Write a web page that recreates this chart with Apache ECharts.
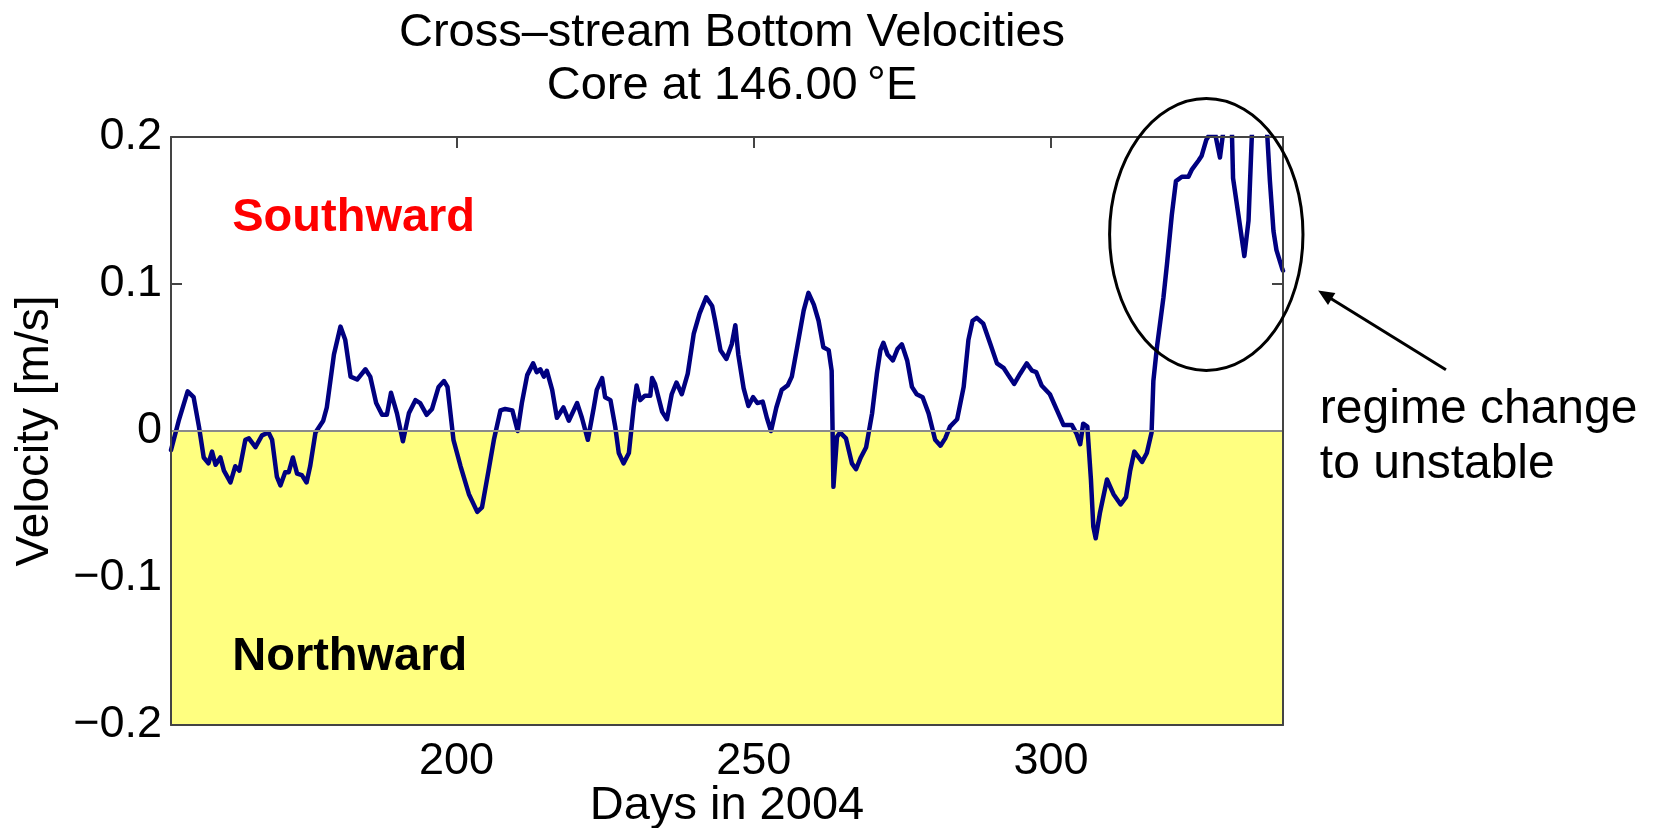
<!DOCTYPE html>
<html>
<head>
<meta charset="utf-8">
<title>Cross-stream Bottom Velocities</title>
<script src="https://cdn.jsdelivr.net/npm/echarts@6/dist/echarts.min.js"></script>
<style>
  html, body { margin: 0; padding: 0; background: #fff; }
  #chart { width: 1654px; height: 828px; }
</style>
</head>
<body>
<div id="chart"></div>
<script>
// days in 2004 and cross-stream bottom velocity (m/s)
var days = [
  152.0, 153.3, 154.8, 155.8, 156.7, 157.5, 158.3, 158.9, 159.5, 160.3,
  160.9, 162.0, 162.8, 163.5, 164.5, 165.1, 166.2, 167.3, 168.4, 169.0,
  169.8, 170.4, 171.2, 171.8, 172.5, 173.2, 174.0, 174.8, 175.4, 176.3,
  177.6, 178.2, 179.4, 180.5, 181.3, 182.2, 183.3, 184.7, 185.5, 186.5,
  187.5, 188.3, 189.0, 190.0, 191.0, 192.0, 193.1, 193.9, 195.0, 195.9,
  197.0, 197.9, 198.5, 199.5, 200.7, 202.1, 203.5, 204.3, 205.4, 206.3,
  207.4, 208.2, 209.4, 210.3, 211.0, 211.9, 212.9, 213.5, 214.1, 214.7,
  215.2, 216.1, 216.9, 218.0, 218.9, 220.3, 221.1, 222.1, 223.1, 223.6,
  224.5, 225.0, 225.9, 226.7, 227.3, 228.1, 229.0, 229.8, 230.3, 230.9,
  231.7, 232.6, 232.9, 233.4, 234.6, 235.4, 236.2, 237.0, 237.9, 238.9,
  239.9, 240.9, 242.0, 243.0, 243.5, 244.4, 245.4, 246.3, 246.9, 247.4,
  248.3, 249.1, 249.9, 250.6, 251.5, 252.2, 252.9, 253.8, 254.7, 255.7,
  256.4, 257.3, 258.4, 259.2, 260.1, 260.9, 261.7, 262.6, 263.1, 263.4,
  264.0, 264.5, 265.5, 266.5, 267.2, 268.0, 268.9, 269.9, 270.7, 271.3,
  271.8, 272.5, 273.4, 274.2, 274.9, 275.8, 276.6, 277.4, 278.4, 279.4,
  280.5, 281.4, 282.2, 283.0, 284.2, 285.3, 286.1, 286.8, 287.5, 288.6,
  289.8, 290.9, 292.0, 292.8, 293.8, 294.8, 295.9, 296.8, 297.5, 298.4,
  299.8, 301.0, 302.1, 303.5, 304.3, 304.9, 305.4, 306.1, 306.7, 307.1,
  307.5, 308.2, 309.4, 310.5, 311.7, 312.6, 313.3, 314.0, 315.3, 316.1,
  316.9, 317.2, 317.8, 318.9, 319.5, 320.3, 321.0, 322.0, 323.1, 323.7,
  324.8, 325.3, 326.1, 326.7, 327.6, 328.4, 329.0, 329.7, 330.4, 330.6,
  331.5, 332.5, 333.2, 333.8, 335.0, 336.3, 336.8, 337.4, 337.9, 338.9,
  339.0
];
var velocity = [
  -0.013, 0.007, 0.027, 0.023, 0.003, -0.018, -0.022, -0.014, -0.023, -0.018,
  -0.027, -0.035, -0.024, -0.027, -0.006, -0.005, -0.011, -0.003, -0.001, -0.006,
  -0.031, -0.037, -0.028, -0.028, -0.018, -0.029, -0.030, -0.035, -0.024, -0.001,
  0.007, 0.016, 0.052, 0.071, 0.062, 0.037, 0.035, 0.042, 0.037, 0.019,
  0.011, 0.011, 0.026, 0.012, -0.007, 0.012, 0.021, 0.019, 0.011, 0.015,
  0.030, 0.034, 0.030, -0.006, -0.024, -0.043, -0.055, -0.052, -0.027, -0.006,
  0.014, 0.015, 0.014, 0.000, 0.019, 0.038, 0.046, 0.040, 0.042, 0.037,
  0.041, 0.028, 0.009, 0.016, 0.007, 0.019, 0.009, -0.006, 0.016, 0.028,
  0.036, 0.023, 0.021, 0.003, -0.015, -0.022, -0.015, 0.016, 0.031, 0.021,
  0.024, 0.024, 0.036, 0.032, 0.013, 0.008, 0.025, 0.033, 0.025, 0.039,
  0.066, 0.080, 0.091, 0.085, 0.075, 0.055, 0.049, 0.059, 0.072, 0.052,
  0.029, 0.017, 0.023, 0.019, 0.020, 0.009, 0.000, 0.016, 0.028, 0.031,
  0.037, 0.057, 0.082, 0.094, 0.086, 0.075, 0.057, 0.055, 0.041, -0.038,
  -0.004, -0.001, -0.005, -0.022, -0.026, -0.018, -0.011, 0.012, 0.039, 0.055,
  0.060, 0.052, 0.048, 0.056, 0.059, 0.048, 0.030, 0.025, 0.023, 0.012,
  -0.006, -0.010, -0.005, 0.003, 0.008, 0.030, 0.062, 0.075, 0.077, 0.073,
  0.059, 0.046, 0.043, 0.038, 0.032, 0.039, 0.046, 0.041, 0.040, 0.031,
  0.025, 0.014, 0.004, 0.004, -0.002, -0.009, 0.005, 0.003, -0.033, -0.065,
  -0.073, -0.056, -0.033, -0.043, -0.050, -0.045, -0.027, -0.014, -0.021, -0.015,
  -0.001, 0.034, 0.057, 0.091, 0.114, 0.147, 0.170, 0.173, 0.173, 0.178,
  0.184, 0.187, 0.198, 0.202, 0.202, 0.186, 0.205, 0.230, 0.205, 0.172,
  0.147, 0.119, 0.143, 0.205, 0.250, 0.205, 0.170, 0.136, 0.123, 0.110,
  0.109
];
var xTicks = [200, 250, 300];
var yTicks = [0.1];

// annotation anchors in data units
var southLabel = [162.3, 0.146];
var northLabel = [162.3, -0.153];
var ring = { cx: 326.1, cy: 0.1337, rx: 16.26, ry: 0.0925 };
var arrowTip = [344.9, 0.0955];
var arrowTail = [366.4, 0.0417];
var noteAnchor = [345.2, -0.0040];

var FONT = '"Liberation Sans", Arial, Helvetica, sans-serif';

var seriesData = days.map(function (d, i) { return [d, velocity[i]]; });

function yFmt(v) {
  if (Math.abs(v) < 1e-9) return '0';
  return (v < 0 ? '\u2212' : '') + Math.abs(v).toFixed(1);
}

var frame = { show: true, onZero: false, lineStyle: { color: '#444', width: 2 } };

var chart = echarts.init(document.getElementById('chart'));

var option = {
  backgroundColor: '#fff',
  animation: false,
  title: {
    text: 'Cross\u2013stream Bottom Velocities\nCore at 146.00\u2009\u00b0E',
    left: 727,
    top: 2,
    textAlign: 'center',
    textStyle: { fontFamily: FONT, fontSize: 47, fontWeight: 'normal', color: '#000', lineHeight: 53 }
  },
  grid: {
    left: 171, right: 371, top: 137, bottom: 103,
    containLabel: false, outerBoundsMode: 'none'
  },
  xAxis: [
    {
      type: 'value', min: 152, max: 339, position: 'bottom', z: 10,
      name: 'Days in 2004', nameLocation: 'middle', nameGap: 58, nameMoveOverlap: false,
      nameTextStyle: { fontFamily: FONT, fontSize: 47, color: '#000' },
      axisLine: frame,
      axisTick: { show: false },
      axisLabel: { customValues: xTicks, margin: 14, fontFamily: FONT, fontSize: 45, color: '#000' },
      splitLine: { show: false }
    },
    {
      type: 'value', min: 152, max: 339, position: 'top', z: 10,
      axisLine: frame,
      axisTick: { show: true, inside: true, length: 11, customValues: xTicks, lineStyle: { color: '#444', width: 2 } },
      axisLabel: { show: false },
      splitLine: { show: false }
    }
  ],
  yAxis: [
    {
      type: 'value', min: -0.2, max: 0.2, interval: 0.1, position: 'left', z: 10,
      name: 'Velocity [m/s]', nameLocation: 'middle', nameGap: 113, nameRotate: 90, nameMoveOverlap: false,
      nameTextStyle: { fontFamily: FONT, fontSize: 46, color: '#000' },
      axisLine: frame,
      axisTick: { show: true, inside: true, length: 11, customValues: yTicks, lineStyle: { color: '#444', width: 2 } },
      axisLabel: { margin: 9, formatter: yFmt, fontFamily: FONT, fontSize: 45, color: '#000' },
      splitLine: { show: false }
    },
    {
      type: 'value', min: -0.2, max: 0.2, interval: 0.1, position: 'right', z: 10,
      axisLine: frame,
      axisTick: { show: true, inside: true, length: 11, customValues: yTicks, lineStyle: { color: '#444', width: 2 } },
      axisLabel: { show: false },
      splitLine: { show: false }
    }
  ],
  series: [
    {
      // northward half shaded yellow, zero line on top
      type: 'line', z: 1, silent: true, symbol: 'none',
      data: seriesData,
      lineStyle: { opacity: 0 },
      markArea: {
        silent: true,
        itemStyle: { color: '#ffff80' },
        data: [[{ yAxis: -0.2 }, { yAxis: 0 }]]
      },
      markLine: {
        silent: true, symbol: 'none',
        label: { show: false },
        lineStyle: { color: '#8a8a8a', width: 2, type: 'solid' },
        data: [{ yAxis: 0 }]
      }
    },
    {
      name: 'Velocity', type: 'line', z: 3,
      data: seriesData,
      symbol: 'none',
      clip: true,
      lineStyle: { color: '#000080', width: 4.5, join: 'round', cap: 'round' }
    }
  ]
};

chart.setOption(option);

// annotations anchored through the axes
function px(p) { return chart.convertToPixel({ xAxisIndex: 0, yAxisIndex: 0 }, p); }

var c = px([ring.cx, ring.cy]);
var ex = px([ring.cx + ring.rx, ring.cy]);
var ey = px([ring.cx, ring.cy + ring.ry]);
var tip = px(arrowTip);
var tail = px(arrowTail);
var dx = tip[0] - tail[0], dy = tip[1] - tail[1];
var len = Math.sqrt(dx * dx + dy * dy);
var ux = dx / len, uy = dy / len;
var headLen = 16, headW = 7;
var base = [tip[0] - ux * headLen, tip[1] - uy * headLen];
var s = px(southLabel), n = px(northLabel), note = px(noteAnchor);

chart.setOption({
  graphic: [
    {
      type: 'text', left: s[0], top: s[1] - 22, z: 20,
      style: { text: 'Southward', fill: '#ff0000', font: 'bold 47px ' + FONT }
    },
    {
      type: 'text', left: n[0], top: n[1] - 22, z: 20,
      style: { text: 'Northward', fill: '#000', font: 'bold 47px ' + FONT }
    },
    {
      type: 'ellipse', z: 20, silent: true,
      shape: { cx: c[0], cy: c[1], rx: ex[0] - c[0], ry: c[1] - ey[1] },
      style: { fill: null, stroke: '#000', lineWidth: 3 }
    },
    {
      type: 'line', z: 20, silent: true,
      shape: { x1: tail[0], y1: tail[1], x2: base[0] + ux * 2, y2: base[1] + uy * 2 },
      style: { stroke: '#000', lineWidth: 3 }
    },
    {
      type: 'polygon', z: 20, silent: true,
      shape: { points: [
        tip,
        [base[0] - uy * headW, base[1] + ux * headW],
        [base[0] + uy * headW, base[1] - ux * headW]
      ] },
      style: { fill: '#000' }
    },
    {
      type: 'text', x: note[0], y: note[1], z: 20,
      style: {
        text: 'regime change\nto unstable', fill: '#000',
        font: '48px ' + FONT, lineHeight: 55,
        verticalAlign: 'middle', align: 'left'
      }
    }
  ]
});
</script>
</body>
</html>
